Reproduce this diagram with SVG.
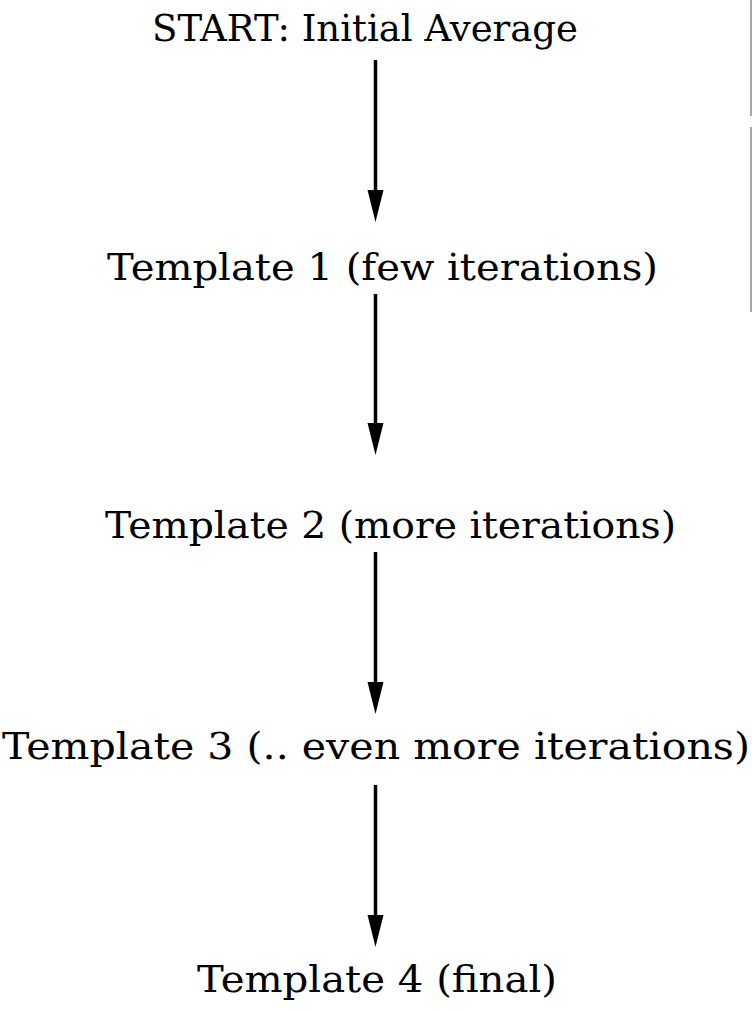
<svg xmlns="http://www.w3.org/2000/svg" width="752" height="1011" viewBox="0 0 752 1011">
  <style>
    .lbl { font-family: "DejaVu Serif", "Liberation Serif", serif; font-size: 38px; fill: #000; }
    .conn { stroke: #000; stroke-width: 3.5; fill: none; }
    .edge { stroke: #8a8a8a; stroke-width: 1.5; }
  </style>
  <defs>
    <marker id="ah" markerUnits="userSpaceOnUse" markerWidth="33" markerHeight="18" refX="0" refY="8" orient="auto" overflow="visible">
      <path d="M0,0 L32,8 L0,16 Z" fill="#000"/>
    </marker>
  </defs>
  <rect width="752" height="1011" fill="#fff"/>
  <g id="edge-lines">
    <line class="edge" x1="751" y1="0" x2="751" y2="116"/>
    <line class="edge" x1="751" y1="127" x2="751" y2="312"/>
  </g>
  <g id="node-start">
    <text class="lbl" x="152" y="41" textLength="426" lengthAdjust="spacingAndGlyphs">START: Initial Average</text>
  </g>
  <g id="node-template1">
    <text class="lbl" x="107" y="280" textLength="551" lengthAdjust="spacingAndGlyphs">Template 1 (few iterations)</text>
  </g>
  <g id="node-template2">
    <text class="lbl" x="105" y="538" textLength="571" lengthAdjust="spacingAndGlyphs">Template 2 (more iterations)</text>
  </g>
  <g id="node-template3">
    <text class="lbl" x="2" y="759" textLength="748" lengthAdjust="spacingAndGlyphs">Template 3 (.. even more iterations)</text>
  </g>
  <g id="node-template4">
    <text class="lbl" x="197" y="992" textLength="360" lengthAdjust="spacingAndGlyphs">Template 4 (final)</text>
  </g>
  <g id="connectors">
    <line class="conn" x1="375.5" y1="60" x2="375.5" y2="190" marker-end="url(#ah)"/>
    <line class="conn" x1="375.5" y1="294" x2="375.5" y2="423" marker-end="url(#ah)"/>
    <line class="conn" x1="375.5" y1="552" x2="375.5" y2="682" marker-end="url(#ah)"/>
    <line class="conn" x1="375.5" y1="785" x2="375.5" y2="915" marker-end="url(#ah)"/>
  </g>
</svg>
